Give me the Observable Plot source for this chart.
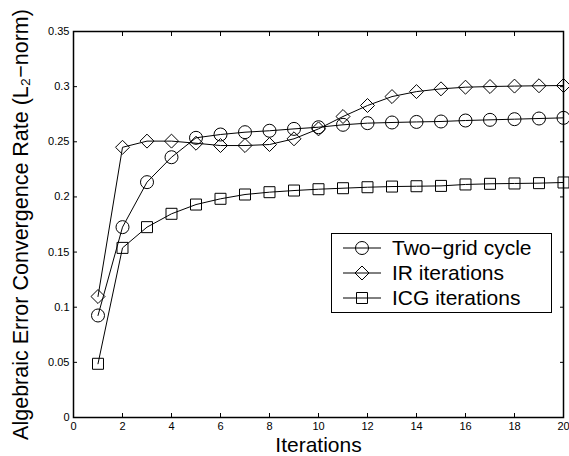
<!DOCTYPE html>
<html>
<head>
<meta charset="utf-8">
<script src="https://cdn.jsdelivr.net/npm/d3@7"></script>
<script src="https://cdn.jsdelivr.net/npm/@observablehq/plot@0.6"></script>
<style>
  html, body { margin: 0; padding: 0; background: #fff; }
  #wrap { position: relative; width: 569px; height: 456px; overflow: hidden; }
  #legend { position: absolute; left: 331px; top: 233px; width: 219px; height: 78px;
    border: 1px solid #000; background: #fff; font-family: "Liberation Sans", Arial, sans-serif; font-size: 21px; }
  .row { position: absolute; left: 0; height: 25px; display: flex; align-items: center; }
  .row svg { display: block; margin-left: 11px; }
  .row span { margin-left: 11px; line-height: 1; }
</style>
</head>
<body>
<div id="wrap"></div>
<script>
const iterations = d3.range(1, 21);
const twoGrid = [0.0925,0.1726,0.2134,0.236,0.2536,0.2566,0.2587,0.260,0.2617,0.2632,0.2654,0.2669,0.2675,0.268,0.2684,0.2693,0.2699,0.2705,0.2711,0.2717];
const irIter  = [0.1097,0.245,0.2506,0.2506,0.2487,0.2466,0.2466,0.2475,0.2527,0.2617,0.2729,0.2829,0.291,0.2955,0.298,0.2995,0.3001,0.3005,0.3008,0.301];
const icgIter = [0.0487,0.1538,0.1726,0.1847,0.1931,0.1983,0.2022,0.2043,0.2058,0.207,0.2079,0.2088,0.2094,0.2097,0.210,0.2113,0.2119,0.2122,0.2125,0.2131];
const seriesNames = ["Two\u2212grid cycle", "IR iterations", "ICG iterations"];
const seriesSymbols = ["circle", "diamond2", "square2"];
const seriesR = [6.5, 6.3, 7];
const xTicks = d3.range(0, 21, 2);
const yTicks = [0, 0.05, 0.1, 0.15, 0.2, 0.25, 0.3, 0.35];

const allSeries = [twoGrid, irIter, icgIter];
const rows = allSeries.flatMap((vals, s) => vals.map((v, i) => ({x: iterations[i], y: v, s})));

const font = "'Liberation Sans', Arial, sans-serif";
const fmtY = d => String(+d.toFixed(2));

const marks = [];
allSeries.forEach((vals, s) => {
  const data = rows.filter(d => d.s === s);
  marks.push(Plot.line(data, {x: "x", y: "y", stroke: "black", strokeWidth: 1}));
  marks.push(Plot.dot(data, {x: "x", y: "y", symbol: () => seriesSymbols[s], r: seriesR[s], stroke: "black", strokeWidth: 1, fill: "none"}));
});

const chart = Plot.plot({
  width: 569,
  height: 456,
  marginLeft: 73,
  marginRight: 6,
  marginTop: 31,
  marginBottom: 39,
  style: {fontFamily: font, background: "#fff", overflow: "visible"},
  x: {domain: [0, 20]},
  y: {domain: [0, 0.35]},
  marks: [
    ...marks,
    Plot.axisX({ticks: xTicks, tickSize: -4, tickPadding: 9, fontSize: 11, label: null, tickFormat: d => String(d)}),
    Plot.axisX({anchor: "top", ticks: xTicks, tickSize: -4, tickFormat: () => "", label: null}),
    Plot.axisY({ticks: yTicks, tickSize: -4, tickPadding: 8, fontSize: 11, label: null, tickFormat: fmtY}),
    Plot.axisY({anchor: "right", ticks: yTicks, tickSize: -4, tickFormat: () => "", label: null}),
    Plot.frame({stroke: "black", strokeWidth: 1.5}),
    Plot.text(["Iterations"], {frameAnchor: "bottom", dy: 20, lineAnchor: "top", textAnchor: "middle", fontSize: 21, fill: "black"}),
    Plot.text(["Algebraic Error Convergence Rate (L\u2082\u2212norm)"], {frameAnchor: "left", dx: -52, rotate: -90, lineAnchor: "middle", textAnchor: "middle", fontSize: 21.5, fill: "black"})
  ]
});

const wrap = document.getElementById("wrap");
wrap.appendChild(chart);

// legend
const legend = document.createElement("div");
legend.id = "legend";
seriesNames.forEach((name, s) => {
  const row = document.createElement("div");
  row.className = "row";
  row.style.top = (1 + s * 25) + "px";
  const svg = d3.create("svg").attr("width", 38).attr("height", 20);
  svg.append("line").attr("x1", 0).attr("x2", 38).attr("y1", 10).attr("y2", 10).attr("stroke", "black");
  const sym = {circle: d3.symbolCircle, diamond2: d3.symbolDiamond2, square2: d3.symbolSquare2}[seriesSymbols[s]];
  svg.append("path").attr("transform", "translate(19,10)")
    .attr("d", d3.symbol(sym, Math.PI * seriesR[s] * seriesR[s])())
    .attr("fill", "none").attr("stroke", "black");
  row.appendChild(svg.node());
  const sp = document.createElement("span");
  sp.textContent = name;
  row.appendChild(sp);
  legend.appendChild(row);
});
wrap.appendChild(legend);
</script>
</body>
</html>
